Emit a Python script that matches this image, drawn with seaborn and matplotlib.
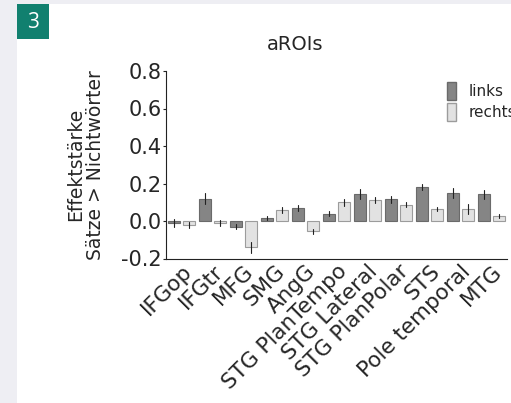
import matplotlib
matplotlib.use("Agg")
import matplotlib.pyplot as plt
from matplotlib.patches import Rectangle
import numpy as np
import pandas as pd
import seaborn as sns

regions = ["IFGop", "IFGtr", "MFG", "SMG", "AngG", "STG PlanTempo",
           "STG Lateral", "STG PlanPolar", "STS", "Pole temporal", "MTG"]
links = [-0.01, 0.12, -0.03, 0.015, 0.07, 0.04, 0.145, 0.115, 0.18, 0.148, 0.142]
rechts = [-0.02, -0.01, -0.14, 0.06, -0.055, 0.10, 0.112, 0.088, 0.064, 0.062, 0.027]
links_err = [0.02, 0.03, 0.015, 0.012, 0.018, 0.015, 0.025, 0.018, 0.017, 0.026, 0.023]
rechts_err = [0.015, 0.018, 0.028, 0.015, 0.015, 0.02, 0.018, 0.012, 0.012, 0.027, 0.01]
sides = ["links", "rechts"]

df = pd.DataFrame({
    "region": regions * 2,
    "side": ["links"] * len(regions) + ["rechts"] * len(regions),
    "value": links + rechts,
    "err": links_err + rechts_err,
})

sns.set_style("white")
plt.rcParams["font.family"] = ["DejaVu Sans"]

fig = plt.figure(figsize=(5.11, 4.03), dpi=100)
fig.patch.set_facecolor("#eeeef3")
# white card and the teal panel number
fig.patches.append(Rectangle((17 / 511, 0), 1, 1 - 4 / 403, transform=fig.transFigure,
                             facecolor="white", edgecolor="none", zorder=-10))
fig.patches.append(Rectangle((17 / 511, 1 - 39 / 403), 32 / 511, 35 / 403,
                             transform=fig.transFigure, facecolor="#11806f",
                             edgecolor="none", zorder=-5))
fig.text(33 / 511, 1 - 22 / 403, "3", color="white", fontsize=15,
         ha="center", va="center", family="Open Sans")

ax = fig.add_axes([166 / 511, 1 - 258.5 / 403, 341 / 511, 187.5 / 403])
ax.set_facecolor("none")

palette = {"links": "#858585", "rechts": "#e2e2e2"}
sns.barplot(data=df, x="region", y="value", hue="side", hue_order=sides,
            order=regions, palette=palette, width=0.97, gap=0.2,
            errorbar=None, ax=ax, legend=False)

# edge colours and error bars on each bar
for i, side in enumerate(sides):
    cont = ax.containers[i]
    sub = df[df["side"] == side].set_index("region").loc[regions]
    for bar, (_, row) in zip(cont, sub.iterrows()):
        bar.set_edgecolor("#6a6a6a" if side == "links" else "#9c9c9c")
        bar.set_linewidth(0.8)
        cx = bar.get_x() + bar.get_width() / 2
        ax.plot([cx, cx], [row["value"] - row["err"], row["value"] + row["err"]],
                color="#222222", lw=0.8, zorder=5)

ax.set_xlim(-0.5, len(regions) - 0.5)
ax.set_ylim(-0.2, 0.8)
ax.set_yticks([-0.2, 0.0, 0.2, 0.4, 0.6, 0.8])
ax.set_yticklabels(["-0.2", "0.0", "0.2", "0.4", "0.6", "0.8"], fontsize=15)
ax.set_xticks(range(len(regions)))
ax.set_xticklabels(regions, rotation=45, ha="right", rotation_mode="anchor", fontsize=15.5)
ax.set_xticks(np.arange(0.5, len(regions), 1.0), minor=True)
ax.tick_params(axis="x", which="major", length=0, pad=2)
ax.tick_params(axis="x", which="minor", length=3, direction="in", width=0.8, color="#222222")
ax.tick_params(axis="y", length=2, width=0.8, pad=1, color="#222222", left=True)
for s in ["top", "right"]:
    ax.spines[s].set_visible(False)
for s in ["left", "bottom"]:
    ax.spines[s].set_color("#222222")
    ax.spines[s].set_linewidth(0.8)

ax.set_xlabel("")
ax.set_ylabel("Effektstärke\nSätze > Nichtwörter", fontsize=13.5, labelpad=12, linespacing=1.05)
fig.text(295 / 511, 1 - 45 / 403, "aROIs", fontsize=14, ha="center", va="center")

handles = [Rectangle((0, 0), 1, 1, facecolor=palette[s],
                     edgecolor="#6a6a6a" if s == "links" else "#9c9c9c") for s in sides]
fig.legend(handles, sides, loc="upper left", bbox_to_anchor=(0.848, 0.83),
           frameon=False, fontsize=11, handlelength=0.6, handleheight=1.45,
           handletextpad=0.8, labelspacing=0.15)

fig.savefig("out.png", dpi=100)
